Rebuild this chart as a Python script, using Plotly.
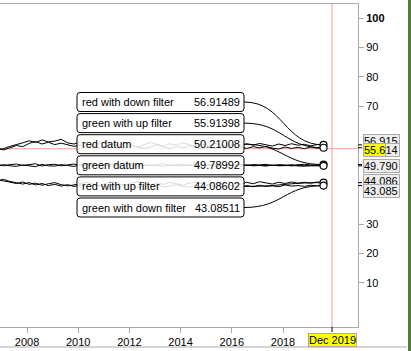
import plotly.graph_objects as go

# ---------------- data ----------------
dates = ["2006-11",
         "2007-02", "2007-05", "2007-08", "2007-11",
         "2008-02", "2008-05", "2008-08", "2008-11",
         "2009-02", "2009-05", "2009-08", "2009-11",
         "2010-02", "2010-05", "2010-08", "2010-11",
         "2011-02", "2011-05", "2011-08", "2011-11",
         "2012-02", "2012-05", "2012-08", "2012-11",
         "2013-02", "2013-05", "2013-08", "2013-11",
         "2014-02", "2014-05", "2014-08", "2014-11",
         "2015-02", "2015-05", "2015-08", "2015-11",
         "2016-02", "2016-05", "2016-08", "2016-11",
         "2017-02", "2017-05", "2017-08", "2017-11",
         "2018-02", "2018-05", "2018-08", "2018-11",
         "2019-02", "2019-05", "2019-08"]

red_down_filter = [55.3, 55.6, 56.4, 56.9, 57.6, 58.3, 57.7, 58.6, 57.9, 58.2, 58.8, 57.6, 57.2,
                   57.8, 57.1, 56.6, 57.4, 58.1, 57.3, 56.8, 57.5, 56.9, 56.2,
                   57.0, 57.7, 57.1, 56.5, 57.3, 56.8, 57.6, 57.0, 56.4, 57.2,
                   56.7, 57.4, 56.9, 56.3, 57.1, 56.6, 57.3, 56.8, 57.4, 56.9,
                   56.5, 57.2, 56.7, 57.3, 56.8, 57.1, 56.6, 57.0, 56.91489]
green_up_filter = [55.8, 55.2, 55.9, 56.7, 56.3, 57.4, 58.1, 57.2, 57.8, 57.0, 57.5, 56.9, 56.4,
                   56.9, 56.2, 56.7, 55.9, 56.5, 57.1, 56.4, 55.8, 56.6, 56.1,
                   55.7, 56.3, 56.9, 56.2, 55.6, 56.4, 55.9, 56.6, 56.0, 55.5,
                   56.3, 55.8, 56.5, 56.0, 55.4, 56.2, 55.7, 56.3, 55.9, 56.4,
                   55.8, 55.5, 56.2, 55.7, 56.1, 55.6, 56.2, 55.8, 55.91398]
red_datum = [50.3, 49.8, 50.2, 50.4, 49.9, 50.1, 50.5, 49.7, 50.2, 50.3, 49.8, 50.1, 50.4,
             49.9, 50.2, 50.3, 49.8, 50.1, 50.4, 49.9, 50.2, 49.7, 50.3,
             50.1, 49.8, 50.2, 50.4, 49.9, 50.1, 50.3, 49.8, 50.2, 50.1,
             49.9, 50.3, 50.2, 49.8, 50.1, 50.3, 49.9, 50.2, 50.1, 50.3,
             49.9, 50.2, 50.1, 49.8, 50.2, 50.3, 50.1, 50.0, 50.21008]
green_datum = [49.7, 50.2, 49.8, 49.6, 50.1, 49.9, 49.5, 50.3, 49.8, 49.7, 50.2, 49.9, 49.6,
               50.1, 49.8, 49.7, 50.2, 49.9, 49.6, 50.1, 49.8, 50.3, 49.7,
               49.9, 50.2, 49.8, 49.6, 50.1, 49.9, 49.7, 50.2, 49.8, 49.9,
               50.1, 49.7, 49.8, 50.2, 49.9, 49.7, 50.1, 49.8, 49.9, 49.7,
               50.1, 49.8, 49.9, 50.2, 49.8, 49.7, 49.9, 50.0, 49.78992]
red_up_filter = [45.1, 44.6, 44.2, 43.8, 44.3, 43.5, 43.9, 43.2, 43.7, 44.1, 43.4, 43.0, 43.3,
                 43.7, 44.2, 43.6, 43.1, 43.8, 44.3, 43.7, 43.2, 43.9, 44.4,
                 43.8, 43.3, 44.0, 43.5, 44.2, 43.7, 43.2, 43.9, 44.4, 43.8,
                 43.4, 44.1, 43.6, 44.3, 43.8, 43.5, 44.2, 43.7, 44.4, 43.9,
                 43.6, 44.2, 43.8, 44.3, 43.9, 44.2, 43.9, 44.3, 44.08602]
green_down_filter = [44.7, 45.2, 44.5, 44.0, 43.6, 44.1, 43.3, 43.8, 43.1, 43.5, 42.9, 43.4, 42.8,
                     43.2, 42.7, 43.4, 42.9, 42.5, 43.1, 42.6, 43.3, 42.8, 42.4,
                     43.0, 42.7, 43.3, 42.6, 42.9, 43.4, 42.8, 42.5, 43.1, 42.7,
                     43.2, 42.9, 42.6, 43.3, 42.8, 42.5, 43.1, 42.7, 43.2, 42.8,
                     43.0, 42.7, 43.3, 42.9, 43.1, 42.8, 43.2, 43.0, 43.08511]

series_names = ["red with down filter", "green with up filter", "red datum",
                "green datum", "red with up filter", "green with down filter"]
series_values = [red_down_filter, green_up_filter, red_datum,
                 green_datum, red_up_filter, green_down_filter]

x_tick_years = [2008, 2010, 2012, 2014, 2016, 2018]
y_tick_values = [10, 20, 30, 70, 80, 90, 100]
y_tick_labels = ["10", "20", "30", "70", "80", "90", "<b>100</b>"]
crosshair_date = "2019-12"
crosshair_label = "Dec 2019"
crosshair_value = 55.614

# ---------------- layout geometry ----------------
W, H = 411, 351
ML, MR, MT, MB = 0, 53, 4, 24
PW, PH = W - ML - MR, H - MT - MB
XR = [2006.945, 2020.93]
YR = [-4.95, 104.76]
FONT = "Liberation Sans, Arial, sans-serif"
GRAY = "#aaaaaa"


def dec_year(s):
    y, m = s.split("-")
    return int(y) + (int(m) - 1) / 12.0


def px_to_x(px):
    return XR[0] + (px - ML) / PW * (XR[1] - XR[0])


def py_to_y(py):
    return YR[1] - (py - MT) / PH * (YR[1] - YR[0])


x = [dec_year(d) for d in dates]
for v in series_values:
    assert len(v) == len(x)

fig = go.Figure()
for name, vals in zip(series_names, series_values):
    fig.add_trace(go.Scatter(x=x, y=vals, mode="lines", name=name,
                             line=dict(color="black", width=1), showlegend=False,
                             hoverinfo="skip"))
# end-point circles
fig.add_trace(go.Scatter(x=[x[-1]] * len(series_values), y=[v[-1] for v in series_values],
                         mode="markers", showlegend=False, hoverinfo="skip",
                         marker=dict(symbol="circle", size=7, color="white",
                                     line=dict(color="black", width=1.1))))

shapes = []
annotations = []

xc = dec_year(crosshair_date)
# crosshair
shapes.append(dict(type="line", xref="x", yref="paper", x0=xc, x1=xc, y0=0, y1=1,
                   line=dict(color="#ff9a9a", width=1), layer="below"))
shapes.append(dict(type="line", xref="paper", yref="y", x0=0, x1=1,
                   y0=crosshair_value, y1=crosshair_value,
                   line=dict(color="#ff9a9a", width=1), layer="below"))

# label boxes with leader lines
bx0, bx1 = px_to_x(77), px_to_x(244)
rx = 3 * (XR[1] - XR[0]) / PW
ry = 3 * (YR[1] - YR[0]) / PH
for i, (name, vals) in enumerate(zip(series_names, series_values)):
    cy_px = 102 + 21.1 * i
    yc = py_to_y(cy_px)
    y1 = py_to_y(cy_px - 9.5)
    y0 = py_to_y(cy_px + 9.5)
    path = (f"M {bx0+rx},{y1} L {bx1-rx},{y1} Q {bx1},{y1} {bx1},{y1-ry} "
            f"L {bx1},{y0+ry} Q {bx1},{y0} {bx1-rx},{y0} L {bx0+rx},{y0} "
            f"Q {bx0},{y0} {bx0},{y0+ry} L {bx0},{y1-ry} Q {bx0},{y1} {bx0+rx},{y1} Z")
    shapes.append(dict(type="path", xref="x", yref="y", path=path,
                       fillcolor="rgba(255,255,255,0.86)",
                       line=dict(color="black", width=1), layer="above"))
    xe, ye = x[-1], vals[-1]
    xm = (bx1 + xe) / 2
    shapes.append(dict(type="path", xref="x", yref="y",
                       path=f"M {bx1},{yc} C {xm},{yc} {xm},{ye} {xe},{ye}",
                       line=dict(color="black", width=1), layer="below"))
    annotations.append(dict(x=px_to_x(79.5), y=yc, xref="x", yref="y", text=name,
                            showarrow=False, xanchor="left", yanchor="middle",
                            font=dict(family=FONT, size=11, color="black")))
    annotations.append(dict(x=px_to_x(241.5), y=yc, xref="x", yref="y",
                            text=f"{vals[-1]:.5f}",
                            showarrow=False, xanchor="right", yanchor="middle",
                            font=dict(family=FONT, size=11, color="black")))
    # small black marker on the value axis
    shapes.append(dict(type="line", xref="paper", yref="y", x0=1, x1=1 + 4 / PW,
                       y0=ye, y1=ye, line=dict(color="black", width=1), layer="above"))

# value labels on the right axis (drawn in stacking order; red datum's 50.210 is hidden
# under green datum's label in the reference, so it is not drawn)
shifts = {0: 3.4, 1: -2.2, 3: -0.5, 4: 1.8, 5: -5.8}
order = [0, 1, "cross", 3, 4, 5]
for k in order:
    if k == "cross":
        annotations.append(dict(x=1, xref="paper", y=crosshair_value, yref="y",
                                text=f"{crosshair_value:.3f}"[:4], showarrow=False,
                                xanchor="left", yanchor="middle", xshift=5, yshift=-1.3,
                                bgcolor="#ffff00", bordercolor=GRAY, borderwidth=1,
                                borderpad=0,
                                font=dict(family=FONT, size=11, color="black")))
        continue
    v = series_values[k][-1]
    annotations.append(dict(x=1, xref="paper", y=v, yref="y", text=f"{v:.3f}",
                            showarrow=False, xanchor="left", yanchor="middle",
                            xshift=5, yshift=shifts[k], width=35, align="left",
                            bgcolor="#eeeeee", bordercolor=GRAY, borderwidth=1,
                            borderpad=0,
                            font=dict(family=FONT, size=11, color="black")))

# crosshair date label + tick
shapes.append(dict(type="line", xref="x", yref="paper", x0=xc, x1=xc, y0=0, y1=-5 / PH,
                   line=dict(color="black", width=1)))
annotations.append(dict(x=xc, xref="x", y=0, yref="paper", text=crosshair_label,
                        showarrow=False, xanchor="center", yanchor="top", yshift=-5.5,
                        bgcolor="#ffff00", bordercolor=GRAY, borderwidth=1, borderpad=0,
                        font=dict(family=FONT, size=11, color="black")))

# frame decorations
shapes.append(dict(type="line", xref="paper", yref="paper", x0=0, x1=407 / PW,
                   y0=-20 / PH, y1=-20 / PH, line=dict(color=GRAY, width=1)))
shapes.append(dict(type="rect", xref="paper", yref="paper", x0=408 / PW, x1=413 / PW,
                   y0=-(MB + 2) / PH, y1=(PH + MT + 2) / PH,
                   fillcolor="#4e7d33", line=dict(width=0)))

fig.update_layout(
    width=W, height=H,
    margin=dict(l=ML, r=MR, t=MT, b=MB, pad=0),
    paper_bgcolor="white", plot_bgcolor="white",
    showlegend=False,
    shapes=shapes, annotations=annotations,
    font=dict(family=FONT, size=11, color="black"),
    xaxis=dict(range=XR, tickvals=x_tick_years, ticktext=[str(t) for t in x_tick_years],
               ticks="outside", ticklen=5, tickcolor=GRAY, tickwidth=1,
               showline=True, linecolor=GRAY, linewidth=1, mirror=True,
               showgrid=False, zeroline=False, fixedrange=True,
               tickfont=dict(family=FONT, size=11, color="black")),
    yaxis=dict(range=YR, side="right", tickvals=y_tick_values, ticktext=y_tick_labels,
               ticks="outside", ticklen=5, tickcolor=GRAY, tickwidth=1,
               showline=True, linecolor=GRAY, linewidth=1,
               showgrid=False, zeroline=False, fixedrange=True,
               tickfont=dict(family=FONT, size=11, color="black")),
)

fig.write_html("out.html", config={"displayModeBar": False})
